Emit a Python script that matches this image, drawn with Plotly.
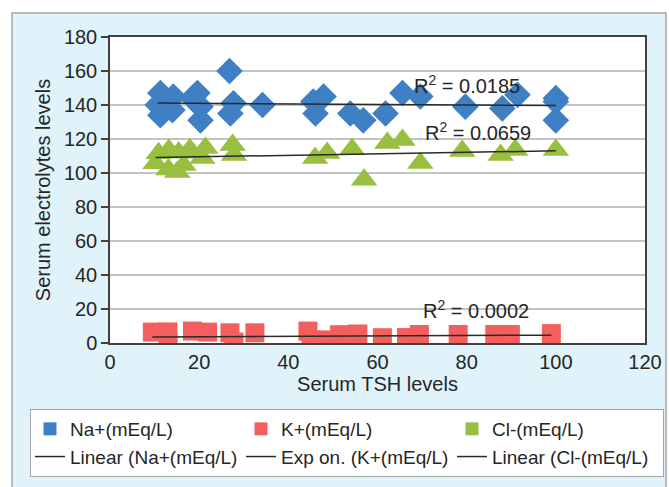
import numpy as np
import plotly.graph_objects as go

# ---- data ----
na_x = [10.7, 11.3, 11.3, 14.2, 14.0, 18.5, 19.6, 20.3, 20.3, 26.8, 27.0, 27.7, 34.2,
        45.6, 46.1, 47.9, 53.9, 56.8, 61.8, 65.6, 69.6, 79.7, 88.0, 91.4, 100, 100, 100]
na_y = [140, 147, 134, 145, 137, 144, 147, 139, 131, 160, 135, 141, 140,
        142, 135, 145, 135, 131, 135, 147, 145, 139, 138, 146, 144, 142, 131]

k_x = [9.5, 13.0, 13.0, 18.5, 21.9, 26.9, 27.8, 32.5, 44.4, 45.1, 48.3, 51.5, 55.6,
       61.1, 66.5, 69.4, 78.1, 86.3, 89.8, 99.0]
k_y = [6.4, 6.5, 1.2, 7.0, 6.4, 6.0, 0.6, 6.0, 7.0, 1.8, 1.8, 4.9, 5.3,
       3.1, 3.2, 5.0, 5.0, 5.0, 5.0, 5.5]

cl_x = [10.2, 10.9, 13.1, 13.2, 15.1, 15.4, 16.5, 17.6, 17.9, 20.7, 21.4, 27.5, 27.8,
        46.0, 48.7, 54.3, 57.0, 62.2, 65.6, 69.6, 79.0, 87.6, 90.9, 100]
cl_y = [105.7, 111.6, 102.0, 113.5, 100.6, 112.0, 104.7, 112.0, 114.0, 108.8, 114.7, 116.5, 110.6,
        108.8, 111.8, 114.0, 96.0, 117.6, 119.4, 105.9, 112.9, 110.6, 113.5, 113.5]

series_names = ["Na+(mEq/L)", "K+(mEq/L)", "Cl-(mEq/L)"]
trend_names = ["Linear (Na+(mEq/L)", "Exp on. (K+(mEq/L)", "Linear (Cl-(mEq/L)"]
r2_labels = ["R<sup>2</sup> = 0.0185", "R<sup>2</sup> = 0.0659", "R<sup>2</sup> = 0.0002"]

x_ticks = [0, 20, 40, 60, 80, 100, 120]
y_ticks = [0, 20, 40, 60, 80, 100, 120, 140, 160, 180]

# ---- styling ----
FONT = "Liberation Sans, Arial, sans-serif"
C_NA = "#3F7FC4"
C_K = "#F25F5C"
C_CL = "#98BF3F"
C_TREND = "#2a2a2a"
C_TEXT = "#262626"

fig = go.Figure()

# scatter series (legend entries drawn as squares, like the reference)
for xs, ys, nm, sym, sz, col in [
    (na_x, na_y, series_names[0], "diamond", 20.5, C_NA),
    (k_x, k_y, series_names[1], "square", 19, C_K),
    (cl_x, cl_y, series_names[2], "triangle-up", 23, C_CL),
]:
    fig.add_trace(go.Scatter(x=xs, y=ys, mode="markers", name=nm, legendgroup=nm,
                             showlegend=False,
                             marker=dict(symbol=sym, size=sz, color=col, line=dict(width=0))))
    fig.add_trace(go.Scatter(x=[None], y=[None], mode="markers", name=nm, legendgroup=nm,
                             showlegend=True,
                             marker=dict(symbol="square", size=13, color=col, line=dict(width=0))))

# trendlines computed from the data
def lin_fit(xs, ys):
    xs = np.asarray(xs, float); ys = np.asarray(ys, float)
    b, a = np.polyfit(xs, ys, 1)
    xx = np.array([xs.min(), xs.max()])
    return xx, a + b * xx

def exp_fit(xs, ys):
    xs = np.asarray(xs, float); ys = np.asarray(ys, float)
    b, la = np.polyfit(xs, np.log(ys), 1)
    xx = np.linspace(xs.min(), xs.max(), 30)
    return xx, np.exp(la) * np.exp(b * xx)

for (tx, ty), nm in zip([lin_fit(na_x, na_y), exp_fit(k_x, k_y), lin_fit(cl_x, cl_y)], trend_names):
    fig.add_trace(go.Scatter(x=tx, y=ty, mode="lines", name=nm,
                             line=dict(color=C_TREND, width=1.5)))

annos = []
for txt, (ax_, ay_) in zip(r2_labels, [(80.1, 151.8), (82.6, 124.7), (82.1, 20.0)]):
    annos.append(dict(x=ax_, y=ay_, xref="x", yref="y", text=txt, showarrow=False,
                      font=dict(family=FONT, size=20, color=C_TEXT)))

L, R, T, B = 110, 24, 37, 144
W, H = 669, 487
pw, ph = W - L - R, H - T - B

def px_x(p):
    return (p - L) / pw

def px_y(p):
    return (H - B - p) / ph

shapes = [
    dict(type="rect", xref="paper", yref="paper", layer="below",
         x0=px_x(12), x1=px_x(666), y0=px_y(500), y1=px_y(13),
         fillcolor="#E0F3FA", line=dict(color="#A6A6A6", width=1.5)),
    dict(type="rect", xref="paper", yref="paper", layer="below",
         x0=0, x1=1, y0=0, y1=1, fillcolor="white", line=dict(width=0)),
]

fig.update_layout(
    width=W, height=H,
    margin=dict(l=L, r=R, t=T, b=B, autoexpand=False),
    paper_bgcolor="white", plot_bgcolor="white",
    font=dict(family=FONT, size=20, color=C_TEXT),
    shapes=shapes, annotations=annos,
    showlegend=True,
    legend=dict(orientation="h", x=px_x(30), y=px_y(409), xanchor="left", yanchor="top",
                bgcolor="white", bordercolor="#A6A6A6", borderwidth=1,
                font=dict(family=FONT, size=19, color=C_TEXT),
                entrywidth=166, entrywidthmode="pixels", itemwidth=30,
                tracegroupgap=0, itemclick=False, itemdoubleclick=False),
    xaxis=dict(range=[0, 120], tickmode="array", tickvals=x_ticks, showgrid=False,
               zeroline=False, showline=True, mirror=True, linecolor="#404040", linewidth=1.5,
               ticks="", tickfont=dict(family=FONT, size=20, color=C_TEXT),
               title=dict(text="Serum TSH levels", standoff=2,
                          font=dict(family=FONT, size=20, color=C_TEXT))),
    yaxis=dict(range=[0, 180], tickmode="array", tickvals=y_ticks, showgrid=True,
               gridcolor="#C3C3C3", gridwidth=1.5,
               zeroline=False, showline=True, mirror=True, linecolor="#404040", linewidth=1.5,
               ticks="outside", ticklen=7, tickcolor="#404040", tickwidth=1.5,
               tickfont=dict(family=FONT, size=20, color=C_TEXT),
               title=dict(text="Serum electrolytes levels", standoff=8,
                          font=dict(family=FONT, size=20, color=C_TEXT))),
)

fig.write_html("out.html", config={"displayModeBar": False},
               post_script="document.body.style.margin='0px';document.body.style.overflow='hidden';")
